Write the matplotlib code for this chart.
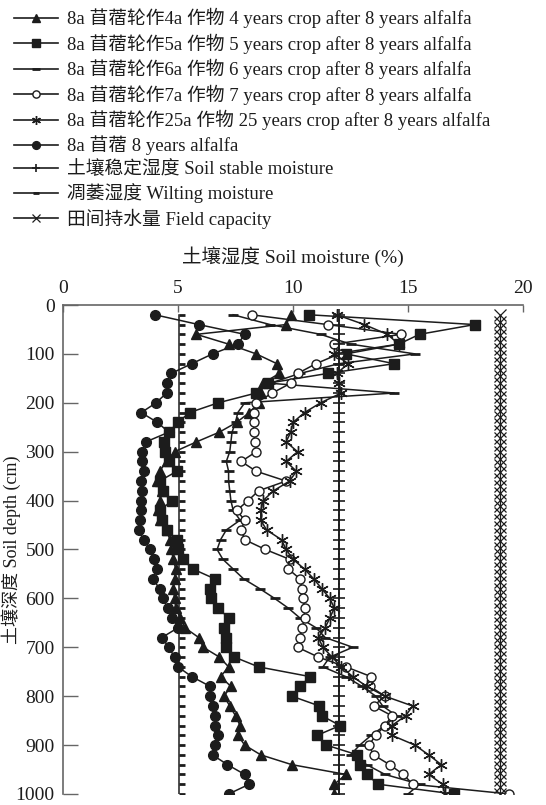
import matplotlib

matplotlib.use("Agg")
import matplotlib.pyplot as plt
from matplotlib.lines import Line2D

plt.rcParams["font.family"] = ["Liberation Serif", "Noto Sans CJK SC"]

# depth of every sample (cm)
depths = list(range(20, 1001, 20))

alfalfa_8a = [
    4.0, 5.9, 7.9, 7.6, 6.5, 5.6, 4.7, 4.5, 4.5, 4.05,
    3.4, 4.1, 4.6, 3.6, 3.45, 3.45, 3.5, 3.4, 3.45, 3.4,
    3.4, 3.35, 3.3, 3.5, 3.8, 3.95, 4.1, 3.9, 4.2, 4.35,
    4.55, 4.75, 5.0, 4.3, 4.6, 4.85, 5.0, 5.6, 6.4, 6.4,
    6.5, 6.6, 6.6, 6.75, 6.6, 6.5, 7.15, 7.9, 8.1, 7.2,
]
crop_4a = [
    9.9, 9.7, 5.8, 7.2, 8.4, 9.3, 9.4, 8.7, 8.6, 8.5,
    8.1, 7.55, 6.8, 5.8, 4.85, 4.5, 4.2, 4.1, 4.3, 4.2,
    4.15, 4.2, 4.5, 4.65, 4.7, 4.8, 4.9, 4.85, 4.8, 4.85,
    4.9, 5.1, 5.3, 5.9, 6.1, 6.8, 7.2, 6.85, 7.3, 7.0,
    7.25, 7.5, 7.7, 7.6, 7.9, 8.6, 9.95, 12.3, 11.8, 11.8,
]
crop_5a = [
    10.7, 17.9, 15.5, 14.6, 12.3, 14.4, 11.5, 8.9, 8.4, 6.75,
    5.5, 5.0, 4.6, 4.4, 4.45, 4.6, 4.95, 4.2, 4.35, 4.75,
    4.2, 4.3, 4.5, 4.95, 5.0, 5.2, 5.65, 6.6, 6.4, 6.45,
    6.75, 7.2, 7.0, 7.1, 7.1, 7.45, 8.5, 10.75, 10.3, 9.95,
    11.15, 11.25, 12.05, 11.05, 11.45, 12.8, 12.9, 13.2, 13.7, 17.0,
]
crop_6a = [
    7.4, 9.0, 11.2, 12.5, 15.3, 12.0, 10.3, 9.0, 14.4, 7.9,
    7.6, 7.5, 7.35, 7.3, 7.25, 7.1, 7.2, 7.2, 7.25, 7.3,
    7.4, 7.7, 7.1, 6.85, 6.7, 6.95, 7.4, 7.85, 8.55, 9.2,
    9.8, 10.3, 11.0, 11.4, 12.6, 11.6, 11.3, 12.3, 13.0, 13.6,
    13.9, 14.5, 14.0, 13.4, 12.9, 12.5, 13.2, 14.0, 15.5, 15.0,
]
crop_7a = [
    8.2, 11.5, 14.7, 11.8, 12.0, 11.0, 10.2, 9.9, 9.1, 8.4,
    8.3, 8.3, 8.3, 8.35, 8.4, 7.75, 8.4, 9.7, 8.5, 8.05,
    7.55, 7.9, 7.75, 7.9, 8.8, 9.85, 9.8, 10.3, 10.4, 10.45,
    10.5, 10.5, 10.4, 10.3, 10.2, 11.1, 12.3, 13.4, 13.35, 14.0,
    13.5, 14.3, 14.0, 13.6, 13.3, 13.5, 14.2, 14.8, 15.2, 19.4,
]
crop_25a = [
    11.9, 13.1, 14.1, 14.6, 11.8, 12.4, 11.9, 12.0, 12.1, 11.2,
    10.5, 10.0, 9.9, 9.7, 10.2, 9.7, 10.15, 9.85, 9.15, 8.7,
    8.6, 8.6, 8.85, 9.5, 9.7, 10.0, 10.5, 10.9, 11.25, 11.6,
    11.8, 11.6, 11.4, 11.1, 11.3, 11.7, 12.1, 12.6, 13.2, 14.0,
    15.2, 14.9, 14.3, 14.3, 15.3, 15.9, 16.45, 15.9, 16.5, 16.6,
]

# reference moisture levels (%)
wilting_moisture = 5.05
stable_moisture = 12.0
field_capacity = 19.0
ref_depths = list(range(20, 1001, 20))
fc_depths = list(range(20, 1001, 14))

labels = [
    "8a 苜蓿轮作4a 作物 4 years crop after 8 years alfalfa",
    "8a 苜蓿轮作5a 作物 5 years crop after 8 years alfalfa",
    "8a 苜蓿轮作6a 作物 6 years crop after 8 years alfalfa",
    "8a 苜蓿轮作7a 作物 7 years crop after 8 years alfalfa",
    "8a 苜蓿轮作25a 作物 25 years crop after 8 years alfalfa",
    "8a 苜蓿 8 years alfalfa",
    "土壤稳定湿度 Soil stable moisture",
    "凋萎湿度 Wilting moisture",
    "田间持水量 Field capacity",
]

ink = "#1c1c1c"
fig = plt.figure(figsize=(5.46, 8.05), dpi=100)
ax = fig.add_axes([63 / 546, 1 - 794 / 805, 460 / 546, 489 / 805])

line_kw = dict(color=ink, linewidth=1.1)
h4, = ax.plot(crop_4a, depths, marker="^", markersize=7, **line_kw)
h5, = ax.plot(crop_5a, depths, marker="s", markersize=7, **line_kw)
h6, = ax.plot(crop_6a, depths, marker="_", markersize=7, markeredgewidth=2, **line_kw)
h7, = ax.plot(crop_7a, depths, marker="o", markersize=6.5, markerfacecolor="white",
              markeredgewidth=1.0, **line_kw)
h25, = ax.plot(crop_25a, depths, marker=(6, 2, 0), markersize=9, markeredgewidth=1.0,
               **line_kw)
h8, = ax.plot(alfalfa_8a, depths, marker="o", markersize=7, **line_kw)

hs, = ax.plot([stable_moisture] * len(ref_depths), ref_depths, marker="+",
              markersize=8, markeredgewidth=1.2, **line_kw)
hw, = ax.plot([wilting_moisture + 0.12] * len(ref_depths), ref_depths, linestyle="none",
              marker="_", markersize=5, markeredgewidth=2, color=ink)
ax.plot([wilting_moisture] * len(ref_depths), ref_depths, **line_kw)
hf, = ax.plot([field_capacity] * len(fc_depths), fc_depths, marker="x", markersize=8.5,
              markeredgewidth=0.9, color=ink, linewidth=0.9)

ax.set_xlim(0, 20)
ax.set_ylim(1000, 0)
ax.xaxis.tick_top()
ax.set_xticks([0, 5, 10, 15, 20])
ax.set_yticks(range(0, 1001, 100))
ax.tick_params(axis="x", direction="in", length=5, width=1, colors="#666666",
               labelcolor=ink, labelsize=14, pad=6)
ax.tick_params(axis="y", direction="in", length=11, width=1, colors="#666666",
               labelcolor=ink, labelsize=14, pad=6)
for side in ["right", "bottom"]:
    ax.spines[side].set_visible(False)
for side in ["top", "left"]:
    ax.spines[side].set_color("#666666")
    ax.spines[side].set_linewidth(1.2)

fig.text(293 / 546, 1 - 257 / 805, "土壤湿度 Soil moisture (%)", ha="center",
         va="center", fontsize=14, color=ink)
fig.text(0.002, 1 - 550 / 805, "土壤深度 Soil depth (cm)", rotation=90, ha="left",
         va="center", fontsize=13, color=ink)

# legend handles: short line with one marker each
legend_handles = []
for h in [h4, h5, h6, h7, h25, h8, hs, hw, hf]:
    legend_handles.append(
        Line2D([0], [0], color=ink, linewidth=1.2, marker=h.get_marker(),
               markersize=min(h.get_markersize(), 8) * 0.8,
               markerfacecolor=h.get_markerfacecolor(),
               markeredgewidth=h.get_markeredgewidth())
    )

fig.legend(
    legend_handles,
    labels,
    loc="upper left",
    bbox_to_anchor=(6 / 546, 1 - 0.5 / 805),
    frameon=False,
    fontsize=13.5,
    handlelength=2.4,
    handletextpad=0.45,
    labelspacing=0.28,
    borderaxespad=0,
    labelcolor=ink,
)

fig.savefig("out.png", dpi=100)
